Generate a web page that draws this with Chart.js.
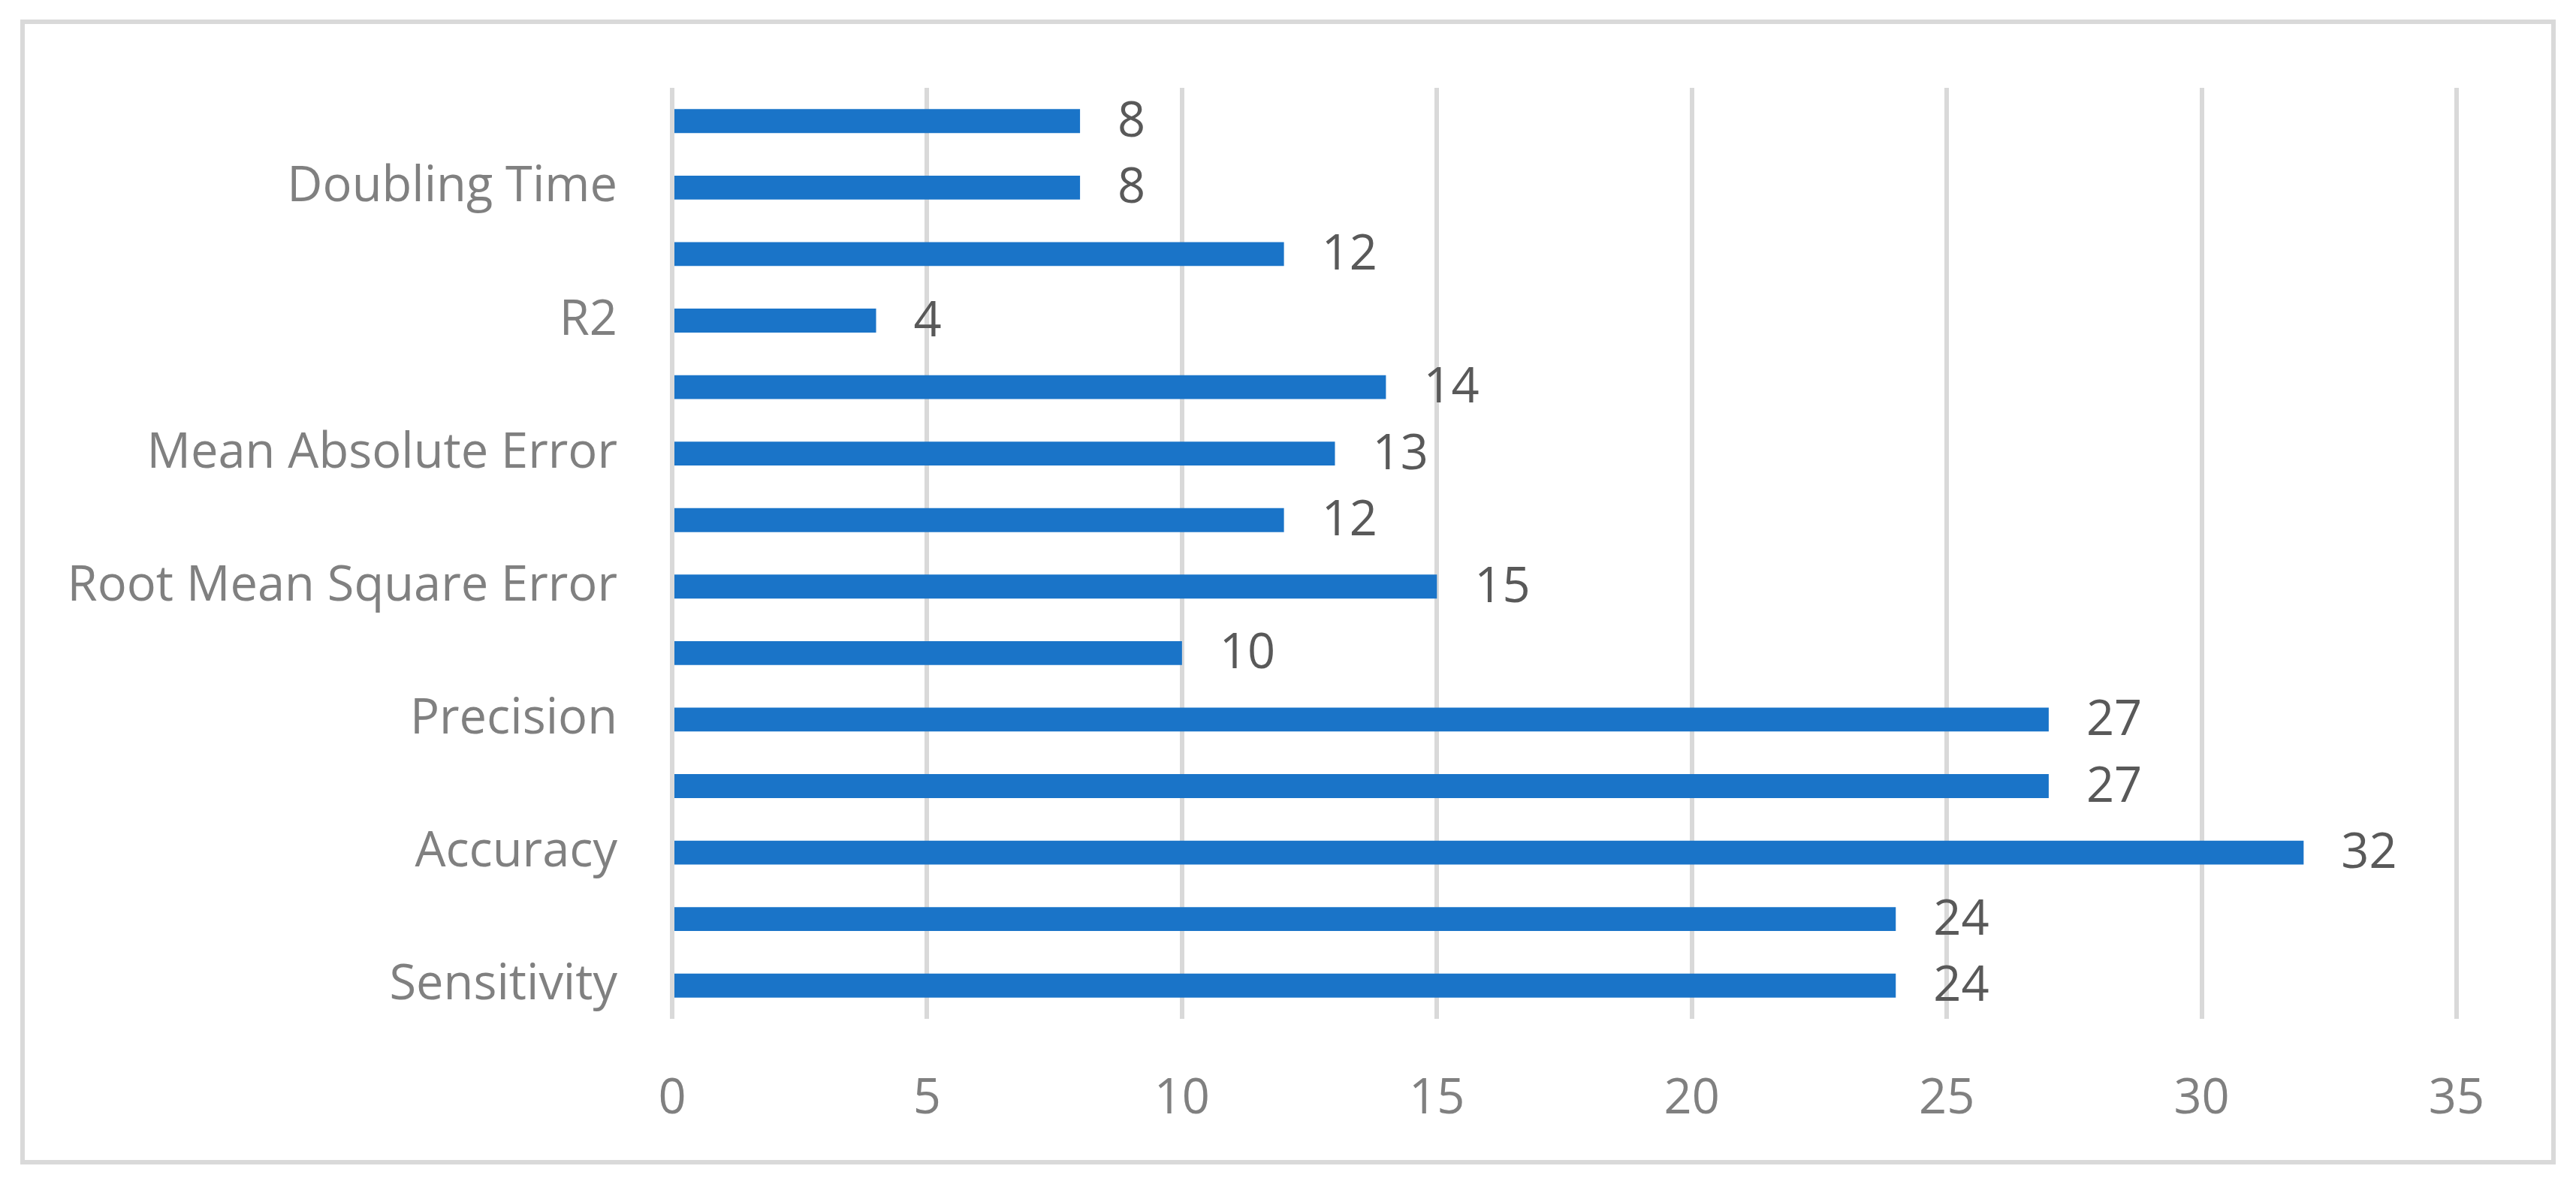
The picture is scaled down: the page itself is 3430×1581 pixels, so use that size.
<!DOCTYPE html>
<html>
<head>
<meta charset="utf-8">
<script src="https://cdn.jsdelivr.net/npm/chart.js@4.4.1/dist/chart.umd.min.js"></script>
<style>
html,body{margin:0;padding:0;background:#fff;overflow:hidden;}
canvas{display:block;}
</style>
</head>
<body>
<canvas id="c" width="3430" height="1581"></canvas>
<script>
// Categories listed top to bottom (blank = label skipped in original)
const categories = ['', 'Doubling Time', '', 'R2', '', 'Mean Absolute Error', '', 'Root Mean Square Error', '', 'Precision', '', 'Accuracy', '', 'Sensitivity'];
const values = [8, 8, 12, 4, 14, 13, 12, 15, 10, 27, 27, 32, 24, 24];
const xTicks = [0, 5, 10, 15, 20, 25, 30, 35];

const FONT = "'Open Sans', 'Noto Sans', sans-serif";

const frame = {
  id: 'frame',
  beforeDraw(chart) {
    const ctx = chart.ctx;
    ctx.save();
    ctx.fillStyle = '#ffffff';
    ctx.fillRect(0, 0, chart.width, chart.height);
    ctx.strokeStyle = '#d9d9d9';
    ctx.lineWidth = 6;
    ctx.strokeRect(30, 29, 3370, 1519);
    ctx.restore();
  }
};

const dataLabels = {
  id: 'dataLabels',
  afterDatasetsDraw(chart) {
    const ctx = chart.ctx;
    const meta = chart.getDatasetMeta(0);
    ctx.save();
    ctx.font = '65px ' + FONT;
    ctx.fillStyle = '#595959';
    ctx.textAlign = 'left';
    ctx.textBaseline = 'middle';
    meta.data.forEach((bar, i) => {
      ctx.fillText(String(values[i]), bar.x + 50, bar.y + 2);
    });
    ctx.restore();
  }
};

new Chart(document.getElementById('c'), {
  type: 'bar',
  data: {
    labels: categories,
    datasets: [{
      data: values,
      backgroundColor: '#1a74c8',
      borderWidth: 0,
      barPercentage: 0.36,
      categoryPercentage: 1.0
    }]
  },
  options: {
    indexAxis: 'y',
    responsive: false,
    animation: false,
    devicePixelRatio: 1,
    layout: { padding: { top: 117, right: 159, bottom: 0, left: 0 } },
    plugins: { legend: { display: false }, tooltip: { enabled: false } },
    scales: {
      x: {
        min: 0, max: 35,
        afterBuildTicks(scale) { scale.ticks = xTicks.map(v => ({ value: v })); },
        afterFit(scale) { scale.height = 224; },
        grid: { color: '#d9d9d9', lineWidth: 6, drawTicks: false },
        border: { display: false },
        ticks: { padding: 68, color: '#808080', font: { family: FONT, size: 65 } }
      },
      y: {
        afterFit(scale) { scale.width = 895; },
        grid: { display: false, drawTicks: false },
        border: { display: false },
        ticks: { padding: 73, autoSkip: false, color: '#808080', font: { family: FONT, size: 65 } }
      }
    }
  },
  plugins: [frame, dataLabels]
});
</script>
</body>
</html>
